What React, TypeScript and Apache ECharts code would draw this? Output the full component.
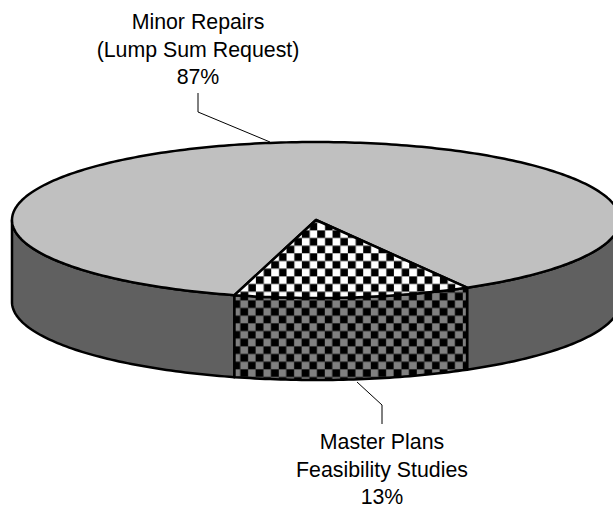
import React, { useEffect, useRef } from "react";
import * as echarts from "echarts";

const categories = ["Minor Repairs\n(Lump Sum Request)", "Master Plans\nFeasibility Studies"];
const shareValues = [87.4, 12.6];

const COLORS = { top: "#c0c0c0", side: "#606060", stroke: "#000000", text: "#000000" };
const GEO = { cx: 316, cy: 220, rx: 304, ry: 78, depth: 82, smallSliceStart: 60.2 };

// Checker tile drawn at 3x, then scaled down 1/3 in the pattern; phase is baked into the tile.
function checker(a: string, b: string, phaseX: number, phaseY: number) {
  const S = 46;
  const c = document.createElement("canvas");
  c.width = S;
  c.height = S;
  const g = c.getContext("2d")!;
  g.fillStyle = b;
  g.fillRect(0, 0, S, S);
  g.fillStyle = a;
  const px = Math.round(phaseX * 3) % S;
  const py = Math.round(phaseY * 3) % S;
  for (let i = -1; i <= 1; i++) {
    for (let j = -1; j <= 1; j++) {
      g.fillRect(px + i * S, py + j * S, 23, 23);
      g.fillRect(px + 23 + i * S, py + 23 + j * S, 23, 23);
    }
  }
  return c;
}

function pt(deg: number, dy = 0): number[] {
  const r = (deg * Math.PI) / 180;
  return [GEO.cx + GEO.rx * Math.cos(r), GEO.cy + GEO.ry * Math.sin(r) + dy];
}
function arc(from: number, to: number, dy = 0): number[][] {
  const out: number[][] = [];
  const n = Math.max(2, Math.ceil(Math.abs(to - from)));
  for (let i = 0; i <= n; i++) out.push(pt(from + ((to - from) * i) / n, dy));
  return out;
}
function sidePoly(from: number, to: number) {
  return [...arc(from, to), ...arc(to, from, GEO.depth)];
}

export default function App() {
  const ref = useRef<HTMLDivElement>(null);
  useEffect(() => {
    const chart = echarts.init(ref.current!, undefined, { renderer: "svg" });
    const topPattern = { image: checker("#000000", "#ffffff", 10.6, 0.2), repeat: "repeat", scaleX: 1 / 3, scaleY: 1 / 3 };
    const sidePattern = { image: checker("#000000", "#808080", 2.5, 8.9), repeat: "repeat", scaleX: 1 / 3, scaleY: 1 / 3 };
    const smallSweep = (shareValues[1] / (shareValues[0] + shareValues[1])) * 360;
    const a0 = GEO.smallSliceStart;
    const a1 = a0 + smallSweep;
    const line = { stroke: COLORS.stroke, lineWidth: 2.5, lineJoin: "round" };
    const poly = (points: number[][], fill: any, s: any = line) => ({
      type: "polygon",
      shape: { points },
      style: { fill, ...s },
    });
    const leader = (points: number[][]) => ({
      type: "polyline",
      shape: { points },
      style: { fill: "none", stroke: COLORS.stroke, lineWidth: 1 },
    });
    const label = (i: number, x: number, y: number) => {
      const pct = Math.round(shareValues[i]) + "%";
      const lines = [...categories[i].split("\n"), pct];
      return lines.map((t, k) => ({
        type: "text",
        style: {
          text: t,
          x,
          y: y + k * 27.5,
          fill: COLORS.text,
          font: '21.33px "Liberation Sans", Arial, sans-serif',
          textAlign: "center",
          textVerticalAlign: "middle",
        },
      }));
    };
    chart.setOption({
      animation: false,
      series: [
        {
          type: "custom",
          coordinateSystem: "none",
          silent: true,
          clip: false,
          data: [shareValues],
          renderItem: () => ({
            type: "group",
            children: [
              poly(sidePoly(a1, 180), COLORS.side),
              poly(sidePoly(0, a0), COLORS.side),
              poly(sidePoly(a0, a1), sidePattern),
              poly([[GEO.cx, GEO.cy], ...arc(a1, a0 + 360)], COLORS.top),
              poly([[GEO.cx, GEO.cy], ...arc(a0, a1)], topPattern),
              leader([[198, 93], [198, 112], [270, 142]]),
              leader([[357, 382], [382, 405], [382, 424]]),
              ...label(0, 198, 22),
              ...label(1, 382, 442),
            ],
          }),
        },
      ],
    });
    return () => chart.dispose();
  }, []);
  return <div ref={ref} style={{ position: "absolute", left: 0, top: 0, width: 613, height: 506, background: "#fff" }} />;
}
